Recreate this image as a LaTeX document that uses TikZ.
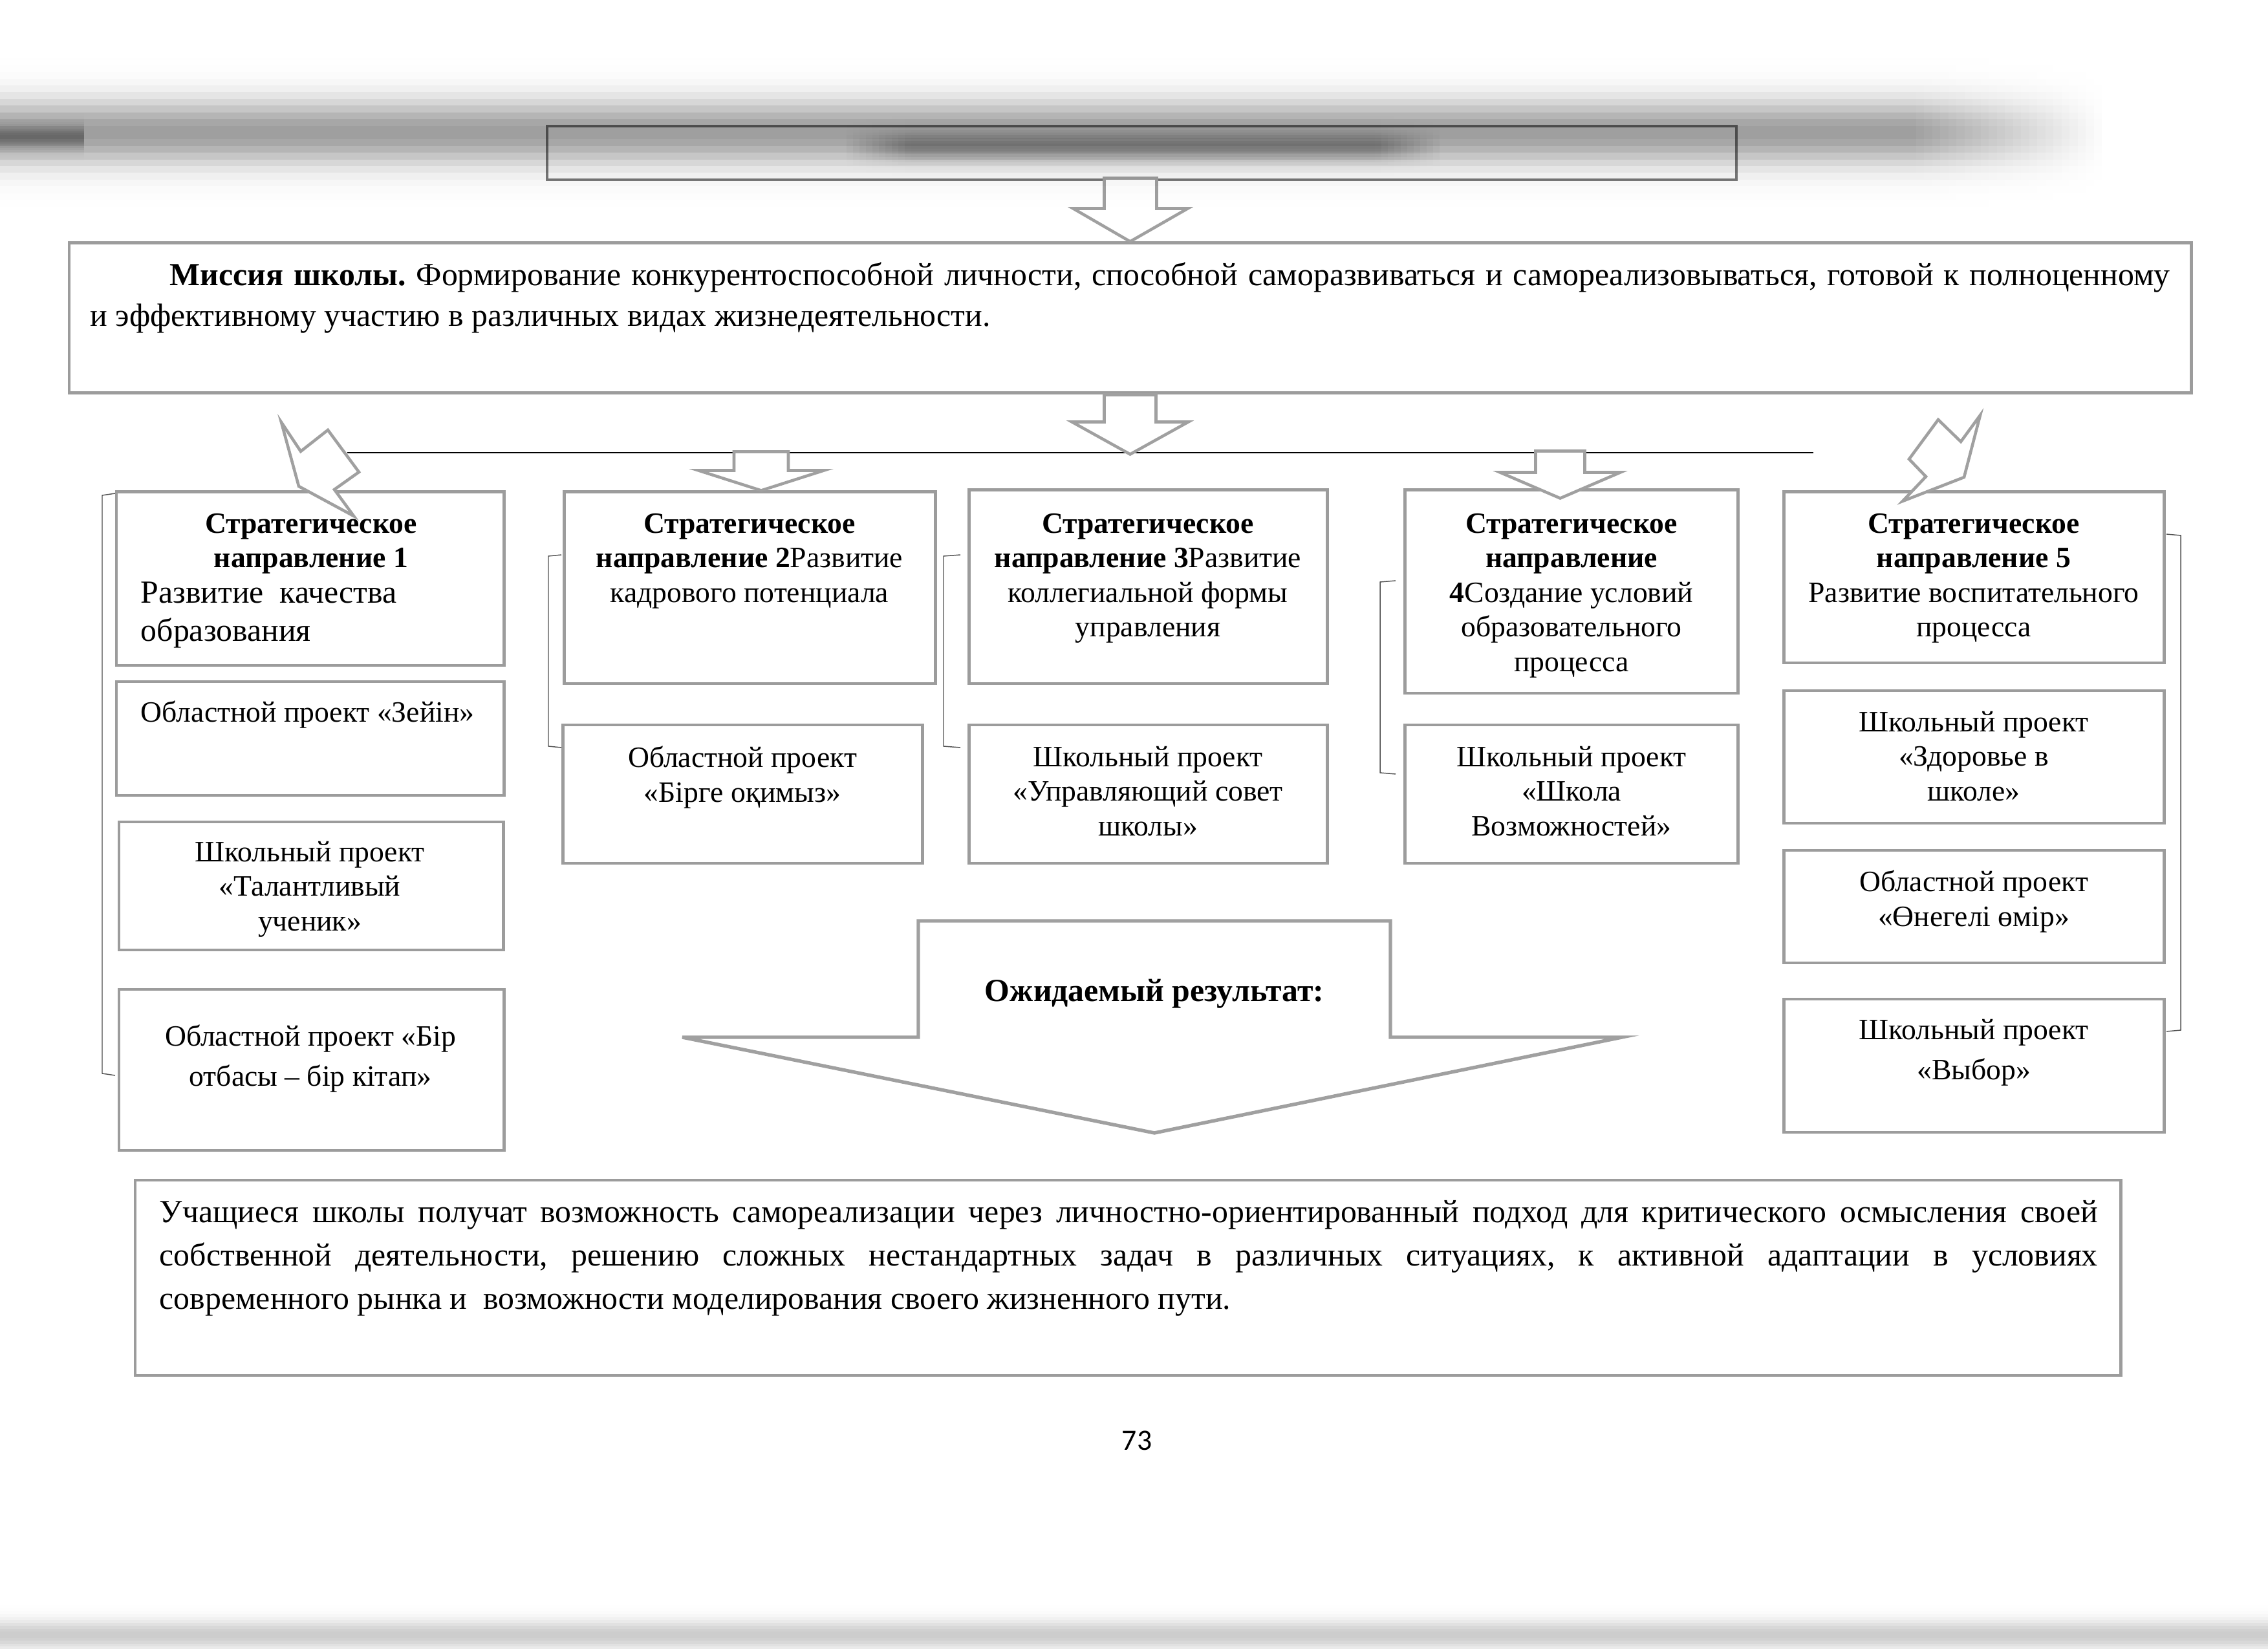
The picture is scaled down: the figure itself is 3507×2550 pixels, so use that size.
\documentclass[tikz,border=0pt]{standalone}
\usepackage{fontspec}
\setmainfont{Liberation Serif}
\newfontfamily\pagefont{Carlito}
\usepackage{tikz}
\usetikzlibrary{calc,fit}
\definecolor{boxgrey}{HTML}{9C9C9C}
\definecolor{arrowgrey}{HTML}{A0A0A0}
\definecolor{hdrgrey}{HTML}{7A7A7A}
\definecolor{bracketgrey}{HTML}{505050}
\frenchspacing
% soft grey band (scan blur): x1, x2, centre y, spread, peak opacity
\newcommand{\blurband}[5]{%
  \foreach \k in {-12,...,11} {
    \pgfmathsetmacro\op{(#5)*exp(-((\k+0.5)/4.8)^2)}
    \fill[black,opacity=\op] ({#1},{#3+#4*\k/4.8}) rectangle ({#2},{#3+#4*(\k+1)/4.8});
  }}

\begin{document}
\begin{tikzpicture}[x=0.08467mm,y=-0.08467mm,
    sbox/.style={draw=boxgrey,line width=1.2pt,fill=white,inner sep=0pt},
    stxt/.style={font=\fontsize{11}{12.9}\selectfont,align=center,inner sep=0pt,anchor=north},
    ltxt/.style={font=\fontsize{11}{12.9}\selectfont,align=left,inner sep=0pt,anchor=north west},
    blockarrow/.style={draw=arrowgrey,line width=1.1pt,fill=white,line join=miter},
    bracket/.style={draw=bracketgrey,line width=0.35pt}]
  \useasboundingbox[fill=white] (0,0) rectangle (3507,2550);

  % Header and mission
  \node[draw=hdrgrey,line width=0.8pt,inner sep=0pt,fit={(846,195) (2685,278)}] (hdr) {};
  \node[sbox,fit={(107,376) (3388,608)}] (mission) {};
  \node[anchor=north west,inner sep=0pt,text width=774.7pt,align=justify,
        font=\fontsize{12}{15.2}\selectfont] (missiont) at (139,405)
    {\hspace*{29.6pt}\textbf{Миссия школы.} Формирование конкурентоспособной личности, способной саморазвиваться и самореализовываться, готовой к полноценному\linebreak и эффективному участию в различных видах жизнедеятельности.};

  % Strategic directions
  \node[sbox,fit={(180,761) (779,1029)}] (sd1) {};
  \node[sbox,fit={(872,761) (1446,1057)}] (sd2) {};
  \node[sbox,fit={(1498,758) (2052,1057)}] (sd3) {};
  \node[sbox,fit={(2172,758) (2687,1072)}] (sd4) {};
  \node[sbox,fit={(2758,761) (3346,1025)}] (sd5) {};
  \node[stxt] (sd1t) at (481,793) {\textbf{Стратегическое}\\\textbf{направление 1}};
  \node[anchor=north west,inner sep=0pt,align=left,font=\fontsize{12}{14.2}\selectfont] (sd1d) at (217,899)
    {Развитие\ \ качества\\образования};
  \node[stxt] (sd2t) at (1159,793) {\textbf{Стратегическое}\\\textbf{направление 2}Развитие\\кадрового потенциала};
  \node[stxt] (sd3t) at (1775,793) {\textbf{Стратегическое}\\\textbf{направление 3}Развитие\\коллегиальной формы\\управления};
  \node[stxt] (sd4t) at (2430,793) {\textbf{Стратегическое}\\\textbf{направление}\\\textbf{4}Создание условий\\образовательного\\процесса};
  \node[stxt] (sd5t) at (3052,793) {\textbf{Стратегическое}\\\textbf{направление 5}\\Развитие воспитательного\\процесса};

  % Projects
  \node[sbox,fit={(180,1054) (779,1230)}] (p1a) {};
  \node[sbox,fit={(184,1271) (778,1469)}] (p1b) {};
  \node[sbox,fit={(184,1530) (779,1779)}] (p1c) {};
  \node[sbox,fit={(870,1121) (1426,1335)}] (p2a) {};
  \node[sbox,fit={(1498,1121) (2052,1335)}] (p3a) {};
  \node[sbox,fit={(2172,1121) (2687,1335)}] (p4a) {};
  \node[sbox,fit={(2758,1068) (3346,1273)}] (p5a) {};
  \node[sbox,fit={(2758,1315) (3346,1489)}] (p5b) {};
  \node[sbox,fit={(2758,1545) (3346,1751)}] (p5c) {};
  \node[ltxt] (p1at) at (217,1083) {Областной проект «Зейін»};
  \node[stxt] (p1bt) at (479,1300) {Школьный проект\\«Талантливый\\ученик»};
  \node[stxt,font=\fontsize{11}{15}\selectfont] (p1ct) at (480,1584) {Областной проект «Бір\\отбасы – бір кітап»};
  \node[stxt] (p2at) at (1148,1153) {Областной проект\\«Бірге оқимыз»};
  \node[stxt] (p3at) at (1775,1153) {Школьный проект\\«Управляющий совет\\школы»};
  \node[stxt] (p4at) at (2430,1153) {Школьный проект\\«Школа\\Возможностей»};
  \node[stxt] (p5at) at (3052,1099) {Школьный проект\\«Здоровье в\\школе»};
  \node[stxt] (p5bt) at (3052,1345) {Областной проект\\«Өнегелі өмір»};
  \node[stxt,font=\fontsize{11}{15}\selectfont] (p5ct) at (3052,1575) {Школьный проект\\«Выбор»};

  % Brackets
  \draw[bracket] (178,763) -- (158,766) -- (158,1660) -- (178,1663);
  \draw[bracket] (868,858) -- (848,860) -- (848,1154) -- (868,1156);
  \draw[bracket] (1485,858) -- (1459,860) -- (1459,1154) -- (1485,1156);
  \draw[bracket] (2158,898) -- (2134,900) -- (2134,1195) -- (2158,1197);
  \draw[bracket] (3350,826) -- (3372,828) -- (3372,1593) -- (3350,1595);

  % Distribution line
  \coordinate (hub) at ($(mission.south)+(0,92)$);
  \coordinate (hl) at (537,700);
  \coordinate (hr) at (2804,700);
  \draw[line width=0.7pt] (hl) -- (hr);

  % Block arrows
  \draw[blockarrow] (mission.north) -- ++(-88,-51) -- ++(48,0) -- ++(0,-47) -- ++(81,0)
    -- ++(0,47) -- ++(48,0) -- cycle;
  \draw[blockarrow] (hub) -- ++(-90,-50) -- ++(50,0) -- ++(0,-42) -- ++(80,0)
    -- ++(0,42) -- ++(50,0) -- cycle;
  \coordinate (tip2) at ($(sd2.north)+(18,0)$);
  \draw[blockarrow] (tip2) -- ++(-97,-31) -- ++(55,0) -- ++(0,-29) -- ++(84,0)
    -- ++(0,29) -- ++(55,0) -- cycle;
  \coordinate (tip4) at ($(sd4.north)+(-17,15)$);
  \draw[blockarrow] (tip4) -- ++(-93,-40) -- ++(55,0) -- ++(0,-33) -- ++(76,0)
    -- ++(0,33) -- ++(55,0) -- cycle;
  \draw[blockarrow] (435,653) -- (465,698) -- (507,665) -- (555,730) -- (517,757)
    -- (547,798) -- (462,752) -- cycle;
  \draw[blockarrow] (3062,642) -- (3032,683) -- (2997,649) -- (2952,710) -- (2978,737)
    -- (2942,775) -- (3037,738) -- cycle;

  % Expected result
  \draw[blockarrow,line width=1.3pt] (1420,1424) -- (2150,1424) -- (2150,1604) -- (2508,1604)
    -- (1785,1752) -- (1055,1604) -- (1420,1604) -- cycle;
  \node[font=\bfseries\fontsize{12}{14}\selectfont] (expected) at (1785,1537) {Ожидаемый результат:};
  \node[sbox,fit={(209,1825) (3279,2127)}] (result) {};
  \node[anchor=north west,inner sep=0pt,text width=722pt,align=justify,
        font=\fontsize{12}{16.1}\selectfont] (resultt) at (246,1856)
    {Учащиеся школы получат возможность самореализации через личностно-ориентированный подход для критического осмысления своей\linebreak собственной деятельности, решению сложных нестандартных задач в различных ситуациях, к активной адаптации в условиях\linebreak современного рынка и\ \ возможности моделирования своего жизненного пути.};

  % Page number
  \node[font=\pagefont\fontsize{11}{13}\selectfont] (pagenum) at (1758,2228) {73};

  % Scan blur over the header
  \blurband{0}{2950}{205}{50}{0.38}
  \foreach \i in {0,...,23} {
    \blurband{2950+12.5*\i}{2962.5+12.5*\i}{205}{50}{0.38*(1-\i/24)}
  }
  \blurband{0}{130}{212}{16}{0.35}
  \foreach \i in {0,...,9} {
    \blurband{1309+\i*10}{1319+\i*10}{226}{20}{0.032*(\i+1)}
    \blurband{2216-\i*10}{2226-\i*10}{226}{20}{0.032*(\i+1)}
  }
  \blurband{1409}{2126}{226}{20}{0.33}
  \blurband{0}{3507}{2528}{22}{0.2}
\end{tikzpicture}
\end{document}
